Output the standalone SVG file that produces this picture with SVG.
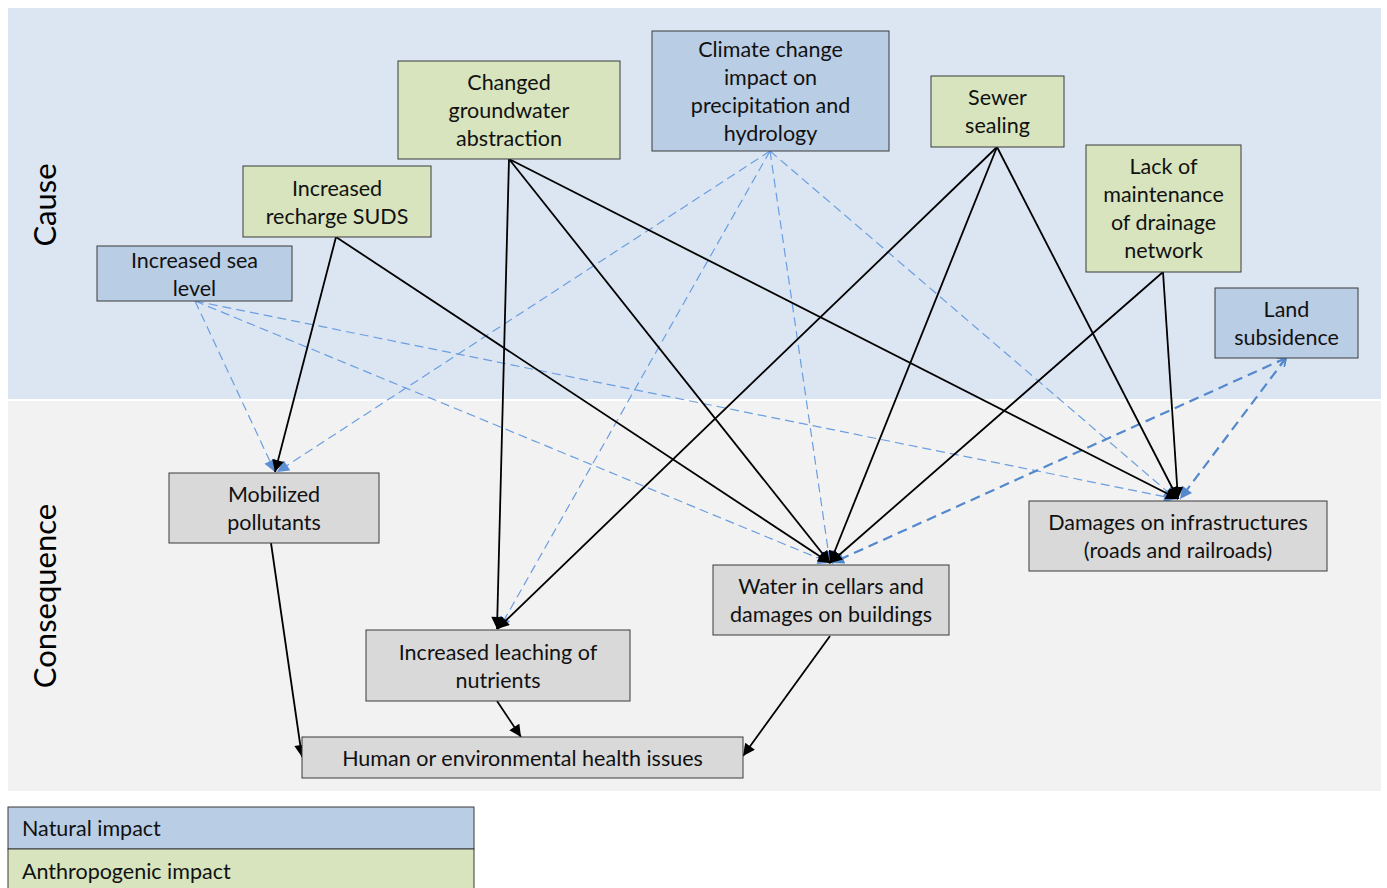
<svg xmlns="http://www.w3.org/2000/svg" width="1387" height="888" viewBox="0 0 1387 888">
<style>
.t{font-family:Lato,"Open Sans","Liberation Sans",sans-serif;font-size:21.5px;fill:#111;text-anchor:middle}
.tl{font-family:Lato,"Open Sans","Liberation Sans",sans-serif;font-size:21.5px;fill:#111}
.band{font-family:Lato,"Open Sans","Liberation Sans",sans-serif;font-size:31px;fill:#000;text-anchor:middle}
.nat{fill:#b9cde5;stroke:#3a3a3a;stroke-width:1}
.ant{fill:#d7e4bd;stroke:#3a3a3a;stroke-width:1}
.con{fill:#d9d9d9;stroke:#3a3a3a;stroke-width:1}
.k{stroke:#000;stroke-width:1.8;fill:none;marker-end:url(#ak)}
.b{stroke:#6a9ee0;stroke-width:1.2;stroke-dasharray:9 5;fill:none;marker-end:url(#ab)}
.bt{stroke:#5388cc;stroke-width:2.2;stroke-dasharray:10 6;fill:none;marker-end:url(#ab2);marker-start:url(#as)}
</style>
<defs>
<marker id="ak" viewBox="0 0 10 10" refX="10" refY="5" markerWidth="13" markerHeight="12" markerUnits="userSpaceOnUse" orient="auto"><path d="M0,0 L10,5 L0,10 Z" fill="#000"/></marker>
<marker id="ab" viewBox="0 0 10 10" refX="10" refY="5" markerWidth="13" markerHeight="12" markerUnits="userSpaceOnUse" orient="auto"><path d="M0,0 L10,5 L0,10 Z" fill="#5b8fd6"/></marker>
<marker id="ab2" viewBox="0 0 10 10" refX="10" refY="5" markerWidth="13" markerHeight="12" markerUnits="userSpaceOnUse" orient="auto"><path d="M0,0 L10,5 L0,10 Z" fill="#5388cc"/></marker>
<marker id="as" viewBox="0 0 10 10" refX="0" refY="5" markerWidth="9" markerHeight="9" markerUnits="userSpaceOnUse" orient="auto"><path d="M10,0 L0,5 L10,10" fill="none" stroke="#5388cc" stroke-width="2"/></marker>
</defs>
<rect x="0" y="0" width="1387" height="888" fill="#fff"/>
<rect x="8" y="8" width="1373" height="391" fill="#dce6f2"/>
<rect x="8" y="401" width="1373" height="390" fill="#f2f2f2"/>
<text class="band" transform="translate(56,205) rotate(-90)">Cause</text>
<text class="band" transform="translate(56,596) rotate(-90)">Consequence</text>

<g id="connectors">
<path class="b" d="M195,301 L275,472"/>
<path class="b" d="M195,301 L830,563"/>
<path class="b" d="M195,301 L1176,499"/>
<path class="b" d="M770,151 L277,472"/>
<path class="b" d="M770,151 L499,629"/>
<path class="b" d="M770,151 L830,563"/>
<path class="b" d="M770,151 L1176,499"/>
<path class="bt" d="M1286,358 L832,563"/>
<path class="bt" d="M1286,358 L1180,499"/>
<path class="k" d="M336,237 L275,472"/>
<path class="k" d="M336,237 L830,563"/>
<path class="k" d="M509,159 L497,629"/>
<path class="k" d="M509,159 L830,563"/>
<path class="k" d="M509,159 L1178,499"/>
<path class="k" d="M997,147 L497,629"/>
<path class="k" d="M997,147 L830,563"/>
<path class="k" d="M997,147 L1178,499"/>
<path class="k" d="M1163,272 L830,563"/>
<path class="k" d="M1163,272 L1178,499"/>
<path class="k" d="M271,543 L302,757"/>
<path class="k" d="M497,701 L521,737"/>
<path class="k" d="M830,636 L743,756"/>
</g>

<g id="n-sea"><rect class="nat" x="97" y="246" width="195" height="55"/><text class="t" x="194.5" y="268">Increased sea</text><text class="t" x="194.5" y="296">level</text></g>
<g id="n-suds"><rect class="ant" x="243" y="166" width="188" height="71"/><text class="t" x="337" y="196">Increased</text><text class="t" x="337" y="224">recharge SUDS</text></g>
<g id="n-gw"><rect class="ant" x="398" y="61" width="222" height="98"/><text class="t" x="509" y="90">Changed</text><text class="t" x="509" y="118">groundwater</text><text class="t" x="509" y="146">abstraction</text></g>
<g id="n-climate"><rect class="nat" x="652" y="31" width="237" height="120"/><text class="t" x="770.5" y="57">Climate change</text><text class="t" x="770.5" y="85">impact on</text><text class="t" x="770.5" y="113">precipitation and</text><text class="t" x="770.5" y="141">hydrology</text></g>
<g id="n-sewer"><rect class="ant" x="931" y="76" width="133" height="71"/><text class="t" x="997.5" y="105">Sewer</text><text class="t" x="997.5" y="133">sealing</text></g>
<g id="n-lack"><rect class="ant" x="1086" y="145" width="155" height="127"/><text class="t" x="1163.5" y="174">Lack of</text><text class="t" x="1163.5" y="202">maintenance</text><text class="t" x="1163.5" y="230">of drainage</text><text class="t" x="1163.5" y="258">network</text></g>
<g id="n-land"><rect class="nat" x="1215" y="288" width="143" height="70"/><text class="t" x="1286.5" y="317">Land</text><text class="t" x="1286.5" y="345">subsidence</text></g>
<g id="n-mob"><rect class="con" x="169" y="473" width="210" height="70"/><text class="t" x="274" y="502">Mobilized</text><text class="t" x="274" y="530">pollutants</text></g>
<g id="n-water"><rect class="con" x="713" y="565" width="236" height="70"/><text class="t" x="831" y="594">Water in cellars and</text><text class="t" x="831" y="622">damages on buildings</text></g>
<g id="n-damage"><rect class="con" x="1029" y="501" width="298" height="70"/><text class="t" x="1178" y="530">Damages on infrastructures</text><text class="t" x="1178" y="558">(roads and railroads)</text></g>
<g id="n-leach"><rect class="con" x="366" y="630" width="264" height="71"/><text class="t" x="498" y="660">Increased leaching of</text><text class="t" x="498" y="688">nutrients</text></g>
<g id="n-health"><rect class="con" x="302" y="737" width="441" height="41"/><text class="t" x="522.5" y="766">Human or environmental health issues</text></g>

<g id="legend">
<rect class="nat" x="8" y="807" width="466" height="42"/>
<text class="tl" x="22" y="836">Natural impact</text>
<rect class="ant" x="8" y="849" width="466" height="42"/>
<text class="tl" x="22" y="879">Anthropogenic impact</text>
</g>
</svg>
